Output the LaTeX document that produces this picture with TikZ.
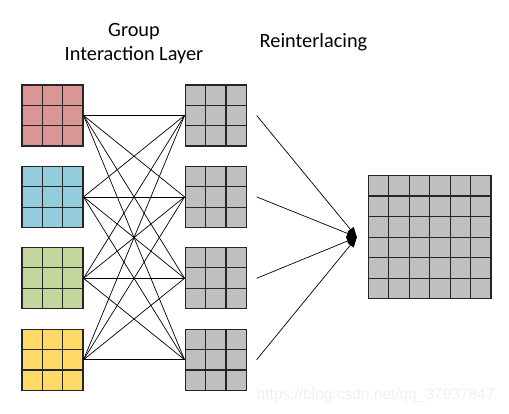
\documentclass[tikz,border=0pt]{standalone}
\usepackage{fontspec}
\setmainfont{Carlito}
\newfontfamily\wmfont{Liberation Sans}
\usetikzlibrary{arrows.meta, positioning, calc}
\definecolor{redcell}{RGB}{217,150,148}
\definecolor{cyancell}{RGB}{147,205,221}
\definecolor{greencell}{RGB}{195,214,155}
\definecolor{yellowcell}{RGB}{255,217,102}
\definecolor{graycell}{RGB}{191,191,191}
\definecolor{gridline}{RGB}{38,38,38}
\tikzset{
  block/.style={rectangle, draw=gridline, line width=1.1pt, minimum size=61pt, inner sep=0pt},
  bigblock/.style={block, minimum size=122.6pt},
  cell/.style={draw=gridline, line width=1.1pt},
  link/.style={line width=0.7pt},
  arrow/.style={line width=0.7pt, -{Triangle[length=10pt,width=8pt]}},
  title/.style={font=\fontsize{20.3}{23.5}\selectfont, align=center, inner sep=0pt}
}
\begin{document}
\begin{tikzpicture}[x=1pt, y=-1pt]
\useasboundingbox (0,0) rectangle (509,414);
% input groups
\node (red) [block, fill=redcell] at (52.5,115.5) {};
\node (cyan) [block, fill=cyancell, below=19.3pt of red] {};
\node (green) [block, fill=greencell, below=19.3pt of cyan] {};
\node (yellow) [block, fill=yellowcell, below=19.3pt of green] {};
% group interaction layer
\node (g1) [block, fill=graycell, right=101pt of red] {};
\node (g2) [block, fill=graycell, right=101pt of cyan] {};
\node (g3) [block, fill=graycell, right=101pt of green] {};
\node (g4) [block, fill=graycell, right=101pt of yellow] {};
% reinterlaced output
\node (out) [bigblock, fill=graycell] at (429.7,237.2) {};
% cells
\foreach \b in {red,cyan,green,yellow,g1,g2,g3,g4} {
  \foreach \i in {1,2} {
    \draw [cell] ($(\b.north west)!\i/3!(\b.north east)$) -- ($(\b.south west)!\i/3!(\b.south east)$);
    \draw [cell] ($(\b.north west)!\i/3!(\b.south west)$) -- ($(\b.north east)!\i/3!(\b.south east)$);
  }
}
\foreach \i in {1,...,5} {
  \draw [cell] ($(out.north west)!\i/6!(out.north east)$) -- ($(out.south west)!\i/6!(out.south east)$);
  \draw [cell] ($(out.north west)!\i/6!(out.south west)$) -- ($(out.north east)!\i/6!(out.south east)$);
}
% full connections
\foreach \a in {red,cyan,green,yellow}
  \foreach \g in {g1,g2,g3,g4}
    \draw [link] (\a.east) -- (\g.west);
% reinterlacing arrows
\coordinate (tip) at ([xshift=-11pt]out.west);
\foreach \g in {1,...,4} {
  \coordinate (s\g) at ([xshift=10pt]g\g.east);
  \draw [arrow] (s\g) -- (tip);
}
% labels
\node (grouplabel) [title] at (134,43.5) {Group\\Interaction Layer};
\node (reintlabel) [title, anchor=base] at (313.5,48) {Reinterlacing};
\node (mark) [anchor=base west, inner sep=0pt, text=black!6, font=\fontsize{15.5}{18}\selectfont\wmfont] at (256.5,399) {https://blog.csdn.net/qq\_37937847};
\end{tikzpicture}
\end{document}
